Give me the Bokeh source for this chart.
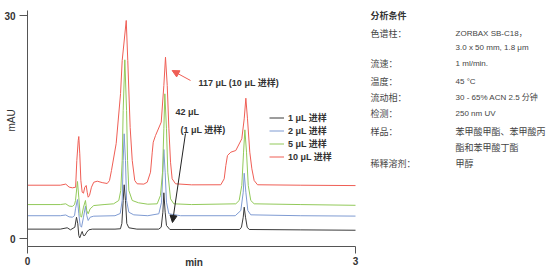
import math
from bokeh.plotting import figure
from bokeh.models import Range1d, FixedTicker, Label, Legend, LegendItem, Arrow, NormalHead
from bokeh.embed import file_html
from bokeh.resources import INLINE

# ---------------- data ----------------
series_names = ["1 μL 进样", "2 μL 进样", "5 μL 进样", "10 μL 进样"]

black_t = [0, 0.30, 0.363, 0.393, 0.433, 0.448, 0.460, 0.469, 0.478, 0.491, 0.500, 0.512, 0.524,
           0.542, 0.561, 0.592, 0.80, 0.85, 0.863, 0.875, 0.884, 0.896, 0.908, 0.927, 1.0,
           1.20, 1.223, 1.238, 1.247, 1.259, 1.271, 1.302, 1.5, 1.94, 1.957, 1.973, 1.982,
           1.994, 2.009, 2.028, 2.5, 3.0]
black_v = [1.3, 1.3, 1.48, 1.21, 1.56, 2.90, 2.02, 0.44, 0.13, 0.67, 0.98, 0.44, 0.44,
           0.89, 1.21, 1.30, 1.3, 1.35, 2.06, 5.15, 7.26, 5.15, 2.06, 1.48, 1.3,
           1.3, 1.56, 3.57, 6.18, 3.57, 1.79, 1.25, 1.25, 1.25, 1.56, 2.90, 4.25,
           2.90, 1.56, 1.25, 1.2, 1.15]

blue_t = [0, 0.30, 0.35, 0.38, 0.41, 0.43, 0.439, 0.457, 0.469, 0.482, 0.494, 0.512, 0.530,
          0.542, 0.555, 0.573, 0.606, 0.80, 0.848, 0.866, 0.875, 0.884, 0.896, 0.906, 0.927,
          0.972, 1.10, 1.201, 1.226, 1.238, 1.247, 1.259, 1.271, 1.293, 1.40, 1.90, 1.951,
          1.973, 1.982, 1.997, 2.015, 2.042, 2.5, 3.0]
blue_v = [3.1, 3.1, 3.2, 2.95, 2.9, 3.1, 4.03, 5.28, 3.36, 1.79, 1.56, 2.90, 4.38,
          3.13, 2.46, 2.90, 3.04, 3.1, 3.4, 5.15, 10.52, 14.11, 10.52, 5.15, 3.57,
          3.22, 3.1, 3.36, 4.92, 8.95, 12.0, 8.95, 4.92, 3.36, 3.1, 3.1, 3.80,
          6.26, 8.81, 6.26, 3.80, 3.22, 3.1, 3.05]

green_t = [0, 0.30, 0.35, 0.38, 0.41, 0.43, 0.439, 0.457, 0.469, 0.482, 0.494, 0.512, 0.530,
           0.542, 0.555, 0.573, 0.606, 0.70, 0.787, 0.835, 0.853, 0.866, 0.875, 0.890, 0.906,
           0.915, 0.927, 0.958, 1.015, 1.10, 1.186, 1.216, 1.235, 1.247, 1.256, 1.271, 1.283,
           1.308, 1.338, 1.50, 1.905, 1.936, 1.960, 1.976, 1.988, 2.003, 2.019, 2.042, 2.073,
           2.5, 3.0]
green_v = [4.6, 4.6, 4.7, 4.4, 4.35, 4.6, 5.15, 7.70, 5.59, 3.13, 2.90, 4.25, 5.15,
           3.80, 3.36, 4.03, 4.47, 4.6, 4.70, 5.15, 6.49, 10.52, 17.24, 24.05, 17.24,
           10.52, 6.49, 5.15, 4.84, 4.65, 4.70, 5.82, 8.95, 14.78, 19.48, 14.78, 8.95,
           5.37, 4.70, 4.6, 4.70, 5.15, 7.16, 11.64, 14.64, 11.64, 7.16, 5.15, 4.70,
           4.6, 4.5]

red_t = [0, 0.30, 0.35, 0.38, 0.41, 0.44, 0.451, 0.464, 0.469, 0.478, 0.488, 0.500, 0.512,
         0.524, 0.537, 0.546, 0.555, 0.567, 0.585, 0.606, 0.638, 0.683, 0.729, 0.750, 0.768,
         0.811, 0.851, 0.866, 0.903, 0.917, 0.939, 0.958, 0.981, 1.003, 1.064, 1.095, 1.125,
         1.141, 1.150, 1.171, 1.223, 1.247, 1.262, 1.278, 1.293, 1.308, 1.323, 1.354, 1.50,
         1.768, 1.799, 1.814, 1.829, 1.860, 1.905, 1.960, 1.982, 1.997, 2.012, 2.033, 2.052,
         2.073, 2.104, 2.5, 3.0]
red_v = [7.2, 7.2, 7.35, 6.95, 6.85, 6.93, 10.52, 13.21, 13.74, 11.42, 7.83, 6.26, 6.13,
         6.93, 7.16, 6.26, 5.59, 5.82, 6.93, 7.60, 7.74, 7.55, 7.43, 7.83, 9.18,
         12.80, 19.52, 23.96, 29.33, 23.96, 14.95, 10.52, 7.83, 7.39, 7.35, 7.60, 8.95,
         11.64, 12.98, 13.88, 15.67, 20.60, 24.40, 20.60, 14.78, 10.29, 8.06, 7.39, 7.25,
         7.26, 8.06, 9.85, 11.19, 11.64, 11.86, 13.44, 16.12, 18.89, 16.12, 11.64, 9.40,
         7.83, 7.26, 7.2, 7.15]

x_ticks = [0, 3]
y_ticks = [0, 30]
x_title = "min"
y_title = "mAU"

ann_red_text = "117 μL (10 μL 进样)"
ann_black_text = ["42 μL", "(1 μL 进样)"]

cond_title = "分析条件"
cond_labels = ["色谱柱：", "", "流速：", "温度：", "流动相：", "检测：", "样品：", "", "稀释溶剂："]
cond_values = ["ZORBAX SB-C18，", "3.0 x 50 mm, 1.8 μm", "1 ml/min.", "45 °C",
               "30 - 65% ACN 2.5 分钟", "250 nm UV", "苯甲酸甲酯、苯甲酸丙", "酯和苯甲酸丁酯", "甲醇"]

# ---------------- layout / style ----------------
LAT = "'Liberation Sans', 'Noto Sans CJK SC', sans-serif"
CJK = "'Noto Sans CJK SC', sans-serif"
colors = ["#3a3a3a", "#7f9bd2", "#92c95a", "#ef5e55"]
TXT = "#333333"
AXIS_Y = -0.98          # data level of the time axis line
Y_TOP = 30.67           # top end of the signal axis line

p = figure(width=554, height=279, output_backend="svg", toolbar_location=None,
           x_range=Range1d(-0.247, 4.82), y_range=Range1d(-5.468, 32.017), min_border=0)
p.outline_line_color = None
p.grid.visible = False

for ax in (p.xaxis[0], p.yaxis[0]):
    ax.axis_line_color = "#555555"
    ax.major_tick_line_color = "#555555"
    ax.minor_tick_line_color = None
    ax.major_tick_in = 0
    ax.major_label_text_font = LAT
    ax.major_label_text_font_size = "10px"
    ax.major_label_text_font_style = "bold"
    ax.major_label_text_color = TXT

p.xaxis.fixed_location = AXIS_Y
p.xaxis.bounds = (0, 3)
p.xaxis.ticker = FixedTicker(ticks=x_ticks)
p.xaxis.major_tick_out = 7
p.xaxis.major_label_standoff = 4
p.yaxis.fixed_location = 0
p.yaxis.bounds = (AXIS_Y, Y_TOP)
p.yaxis.ticker = FixedTicker(ticks=y_ticks)
p.yaxis.major_tick_out = 8
p.yaxis.major_label_standoff = 4

renderers = []
for (t, v), c in zip([(black_t, black_v), (blue_t, blue_v), (green_t, green_v), (red_t, red_v)], colors):
    renderers.append(p.line(t, v, line_color=c, line_width=1))

legend = Legend(items=[LegendItem(label=n, renderers=[r]) for n, r in zip(series_names, renderers)],
                location=(269, 116), padding=0, margin=0, spacing=0, glyph_width=15, glyph_height=13,
                label_height=13, label_standoff=4, background_fill_alpha=0, border_line_alpha=0,
                label_text_font=LAT, label_text_font_size="9px", label_text_font_style="bold",
                label_text_color=TXT)
p.add_layout(legend)

# axis titles
p.add_layout(Label(x=1.523, y=-3.18, text=x_title, text_font=LAT, text_font_size="10px",
                   text_font_style="bold", text_color=TXT, text_align="center", text_baseline="middle"))
p.add_layout(Label(x=-0.146, y=15.9, text=y_title, angle=math.pi / 2, text_font=LAT, text_font_size="10px",
                   text_color=TXT, text_align="center", text_baseline="middle"))

# annotations
p.add_layout(Label(x=1.564, y=20.91, text=ann_red_text, text_font=LAT, text_font_size="9px",
                   text_font_style="bold", text_color=TXT, text_baseline="middle"))
p.add_layout(Label(x=1.354, y=17.01, text=ann_black_text[0], text_font=LAT, text_font_size="9px",
                   text_font_style="bold", text_color=TXT, text_baseline="middle"))
p.add_layout(Label(x=1.399, y=14.64, text=ann_black_text[1], text_font=LAT, text_font_size="9px",
                   text_font_style="bold", text_color=TXT, text_baseline="middle"))
p.add_layout(Arrow(x_start=1.491, y_start=21.27, x_end=1.323, y_end=22.61, line_color=colors[3], line_width=1,
                   end=NormalHead(size=7, fill_color=colors[3], line_color=colors[3])))
p.add_layout(Arrow(x_start=1.445, y_start=14.15, x_end=1.326, y_end=2.19, line_color="#222222", line_width=1,
                   end=NormalHead(size=7, fill_color="#222222", line_color="#222222")))

# analysis conditions panel
p.add_layout(Label(x=3.137, y=30.0, text=cond_title, text_font=CJK, text_font_size="9px",
                   text_font_style="bold", text_color=TXT, text_baseline="middle"))
row_y = [27.54, 25.75, 23.51, 21.18, 18.94, 16.79, 14.46, 12.31, 10.08]
for lab, val, yy in zip(cond_labels, cond_values, row_y):
    if lab:
        p.add_layout(Label(x=3.137, y=yy, text=lab, text_font=CJK, text_font_size="9px",
                           text_color="#444444", text_baseline="middle"))
    pure_cjk = all(ord(ch) > 0x2e80 for ch in val)
    p.add_layout(Label(x=3.915, y=yy, text=val, text_font=CJK if pure_cjk else LAT,
                       text_font_size="9px" if pure_cjk else "8px",
                       text_color="#444444", text_baseline="middle"))

open("out.html", "w").write(file_html(p, INLINE))
